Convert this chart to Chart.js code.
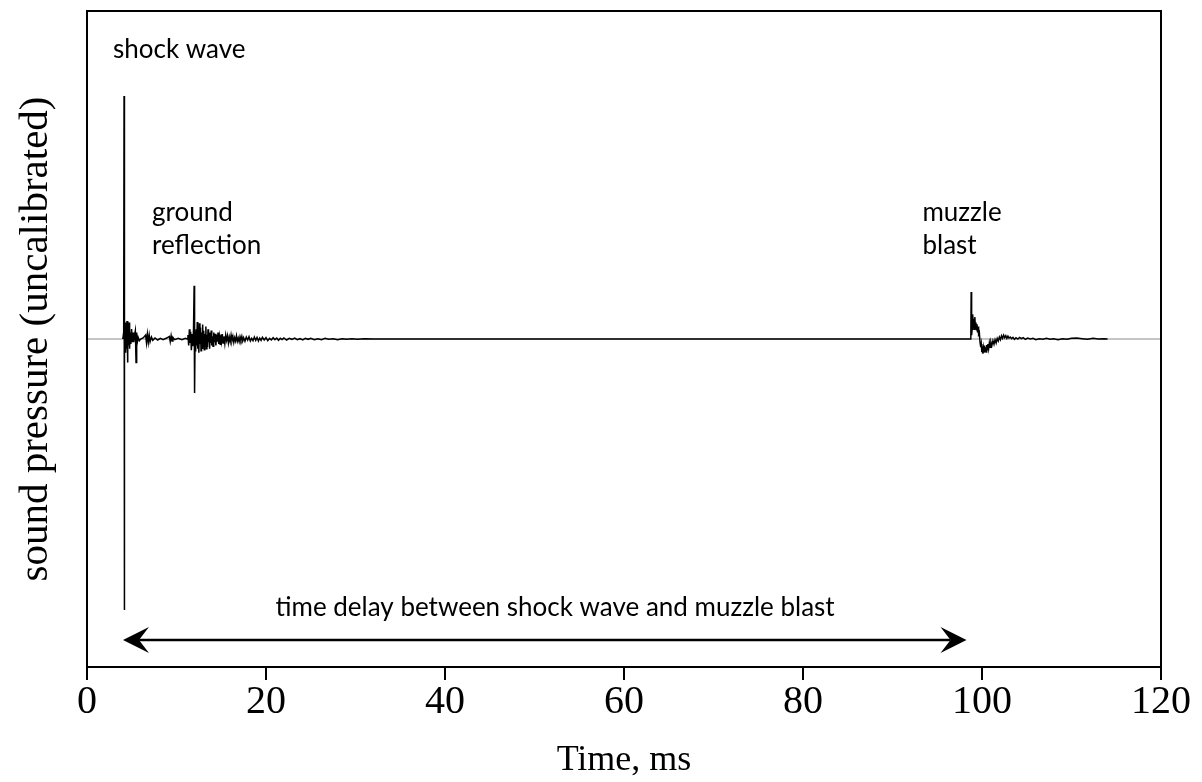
<!DOCTYPE html>
<html>
<head>
<meta charset="utf-8">
<script src="https://cdn.jsdelivr.net/npm/chart.js@4.4.1/dist/chart.umd.min.js"></script>
<style>
  html, body { margin: 0; padding: 0; background: #fff; }
  #wrap { width: 1202px; height: 782px; position: relative; }
</style>
</head>
<body>
<div id="wrap"><canvas id="blast-chart"></canvas></div>
<script>
// Shock wave arrival and its ringing (ms, relative pressure)
const shockTime = [
    4.00, 4.10, 4.14, 4.17, 4.20, 4.26, 4.32, 4.40, 4.47, 4.52, 4.58, 4.64, 4.70, 4.76,
    4.82, 4.90, 4.98, 5.06, 5.14, 5.22, 5.30, 5.40, 5.48, 5.55, 5.62, 5.72, 5.85, 6.00,
    6.30, 6.55, 6.65, 6.75, 6.85, 6.95, 7.05, 7.20, 7.35, 7.60, 7.90, 8.20, 8.50, 8.90,
    9.20, 9.30, 9.40, 9.50, 9.60, 9.80, 10.20, 10.60, 11.00
];
const shockPressure = [
    0, 0.02, 0.741, -0.826, 0.06, -0.04, 0.05, -0.03, 0.055, -0.072, 0.04, -0.02, 0.05, -0.03,
    0.02, -0.015, 0.03, -0.01, 0.02, -0.01, 0.01, 0.025, -0.072, 0.02, -0.01, 0.005, -0.005, 0,
    0.004, 0.012, -0.012, 0.015, -0.01, 0.012, -0.008, 0.006, -0.004, 0.003, -0.003, 0.002, -0.002, 0.003,
    0.008, -0.008, 0.01, -0.006, 0.005, -0.002, 0.002, -0.002, 0.002
];

// Ground reflection and the decaying tail behind it
const reflectionTime = [
    11.20, 11.28, 11.36, 11.44, 11.50, 11.58, 11.66, 11.74, 11.82, 11.90, 11.97, 12.02, 12.08, 12.14,
    12.20, 12.26, 12.32, 12.38, 12.44, 12.50, 12.56, 12.62, 12.68, 12.74, 12.80, 12.86, 12.92, 12.98,
    13.04, 13.10, 13.16, 13.22, 13.28, 13.34, 13.40, 13.46, 13.52, 13.58, 13.64, 13.70, 13.76, 13.82,
    13.88, 13.94, 14.00, 14.08, 14.16, 14.24, 14.32, 14.40, 14.48, 14.56, 14.64, 14.72, 14.80, 14.88,
    14.96, 15.04, 15.12, 15.20, 15.30, 15.40, 15.50, 15.60, 15.70, 15.80, 15.90, 16.00, 16.10, 16.20,
    16.30, 16.40, 16.50, 16.60, 16.70, 16.80, 16.90, 17.00, 17.10, 17.20, 17.30, 17.40, 17.50, 17.65,
    17.80, 17.95, 18.10, 18.25, 18.40, 18.55, 18.70, 18.85, 19.00, 19.15, 19.30, 19.45, 19.60, 19.80,
    20.00, 20.20, 20.40, 20.60, 20.80, 21.00, 21.20, 21.40, 21.60, 21.80, 22.00, 22.30, 22.60, 22.90,
    23.20, 23.50, 23.80, 24.10, 24.40, 24.70, 25.00, 25.40, 25.80, 26.20, 26.60, 27.00, 27.50, 28.00,
    28.50, 29.00, 29.60, 30.20, 31.00, 32.00
];
const reflectionPressure = [
    0, 0.012, -0.02, 0.03, -0.012, 0.022, -0.034, 0.015, -0.022, 0.028, 0.162, -0.165, 0.02, -0.038,
    0.03, -0.02, 0.052, -0.03, 0.01, -0.042, 0.048, -0.015, 0.035, -0.036, 0.02, -0.028, 0.044, -0.012,
    0.025, -0.033, 0.015, -0.02, 0.038, -0.03, 0.012, -0.024, 0.03, -0.01, 0.02, -0.03, 0.018, -0.012,
    0.026, -0.02, 0.008, -0.022, 0.02, -0.01, 0.016, -0.02, 0.012, -0.008, 0.02, -0.015, 0.006, -0.016,
    0.014, -0.006, 0.015, -0.012, 0.008, -0.014, 0.012, -0.004, 0.01, -0.012, 0.006, -0.008, 0.012, -0.005,
    0.008, -0.01, 0.004, -0.006, 0.01, -0.007, 0.003, -0.008, 0.007, -0.003, 0.008, -0.006, 0.004, -0.007,
    0.006, -0.003, 0.007, -0.006, 0.002, -0.005, 0.006, -0.004, 0.005, -0.006, 0.003, -0.004, 0.005, -0.003,
    0.004, -0.005, 0.002, -0.003, 0.004, -0.002, 0.003, -0.004, 0.002, -0.002, 0.003, -0.003, 0.002, -0.001,
    0.003, -0.002, 0.001, -0.003, 0.002, -0.001, 0.002, -0.002, 0.001, -0.002, 0.002, -0.001, 0.001, -0.002,
    0.001, -0.001, 0.001, -0.001, 0.001, 0
];

// Muzzle blast and its slow negative phase
const muzzleTime = [
    98.60, 98.75, 98.79, 98.84, 98.90, 98.96, 99.02, 99.08, 99.14, 99.20, 99.26, 99.32, 99.38, 99.44,
    99.50, 99.56, 99.62, 99.70, 99.78, 99.86, 99.92, 99.98, 100.04, 100.10, 100.16, 100.22, 100.28, 100.34,
    100.40, 100.46, 100.52, 100.58, 100.66, 100.74, 100.82, 100.90, 101.00, 101.10, 101.22, 101.34, 101.46, 101.58,
    101.70, 101.82, 101.94, 102.06, 102.18, 102.30, 102.42, 102.54, 102.66, 102.78, 102.90, 103.02, 103.16, 103.30,
    103.46, 103.62, 103.80, 104.00, 104.20, 104.40, 104.60, 104.85, 105.10, 105.40, 105.70, 106.00, 106.40, 106.80,
    107.20, 107.60, 108.00, 108.50, 109.00, 109.50, 110.00, 110.60, 111.20, 111.80, 112.40, 113.00, 113.60, 114.03
];
const muzzlePressure = [
    0, 0, 0.143, 0.012, 0.03, 0.075, 0.04, 0.062, 0.03, 0.067, 0.035, 0.05, 0.028, 0.045,
    0.02, 0.038, 0.015, 0.02, -0.01, -0.025, -0.015, -0.04, -0.022, -0.045, -0.028, -0.042, -0.02, -0.038,
    -0.025, -0.04, -0.018, -0.033, -0.015, -0.03, -0.012, -0.025, -0.01, -0.02, -0.005, -0.016, -0.002, -0.012,
    0.002, -0.006, 0.006, -0.002, 0.01, 0.002, 0.012, 0.004, 0.01, 0.002, 0.009, 0.003, 0.006, 0.001,
    0.005, -0.001, 0.004, 0, 0.005, 0.001, 0.004, -0.001, 0.003, 0, 0.002, -0.002, 0.001, -0.001,
    0.002, -0.001, 0.001, -0.002, 0.001, -0.001, 0.002, 0.003, 0.001, -0.001, 0.002, 0, 0.001, 0
];

// zero line of the recorder, across the full time window
const zeroTime = [0, 120];
const zeroPressure = [0, 0];

const xTicks = [0, 20, 40, 60, 80, 100, 120];

// event labels: text lines, left edge (ms), first line centre (pressure)
const noteText = [['shock wave'], ['ground', 'reflection'], ['muzzle', 'blast']];
const noteTime = [2.9, 7.27, 93.35];
const notePressure = [0.881, 0.384, 0.384];

// span between shock wave and muzzle blast
const delaySpan = [4.02, 98.27];
const delayPressure = -0.918;
const delayText = 'time delay between shock wave and muzzle blast';
const delayTextTime = 52.3;
const delayTextPressure = -0.82;

function toPoints(times, values) {
    return times.map((t, i) => ({ x: t, y: values[i] }));
}

const signal = toPoints(shockTime, shockPressure)
    .concat(toPoints(reflectionTime, reflectionPressure))
    .concat(toPoints(muzzleTime, muzzlePressure));

const noteFont = '26px Lato';

// frame around the plot, the event labels and the delay arrow
const annotate = {
    id: 'annotate',
    afterDatasetsDraw(chart) {
        const { ctx, chartArea, scales } = chart;
        const xs = scales.x, ys = scales.y;
        ctx.save();

        ctx.strokeStyle = '#000';
        ctx.lineWidth = 2;
        ctx.strokeRect(chartArea.left, chartArea.top,
            chartArea.right - chartArea.left, chartArea.bottom - chartArea.top);

        ctx.fillStyle = '#000';
        ctx.font = noteFont;
        ctx.textAlign = 'left';
        ctx.textBaseline = 'middle';
        const lineGap = 33;
        noteText.forEach((lines, i) => {
            const x = xs.getPixelForValue(noteTime[i]);
            const y = ys.getPixelForValue(notePressure[i]);
            lines.forEach((line, j) => ctx.fillText(line, x, y + j * lineGap));
        });

        ctx.textAlign = 'center';
        ctx.fillText(delayText, xs.getPixelForValue(delayTextTime), ys.getPixelForValue(delayTextPressure));

        const x1 = xs.getPixelForValue(delaySpan[0]);
        const x2 = xs.getPixelForValue(delaySpan[1]);
        const ya = ys.getPixelForValue(delayPressure);
        const head = 26, half = 13, notch = 16;
        ctx.lineWidth = 2.5;
        ctx.beginPath();
        ctx.moveTo(x1 + notch, ya);
        ctx.lineTo(x2 - notch, ya);
        ctx.stroke();
        [[x1, 1], [x2, -1]].forEach(([tip, dir]) => {
            ctx.beginPath();
            ctx.moveTo(tip, ya);
            ctx.lineTo(tip + dir * head, ya - half);
            ctx.lineTo(tip + dir * notch, ya);
            ctx.lineTo(tip + dir * head, ya + half);
            ctx.closePath();
            ctx.fill();
        });
        ctx.restore();
    }
};

new Chart(document.getElementById('blast-chart').getContext('2d'), {
    type: 'scatter',
    data: {
        datasets: [
            {
                data: signal,
                showLine: true,
                borderColor: '#000',
                borderWidth: 1.5,
                pointRadius: 0,
                tension: 0,
                order: 0
            },
            {
                data: toPoints(zeroTime, zeroPressure),
                showLine: true,
                borderColor: '#8c8c8c',
                borderWidth: 1.2,
                pointRadius: 0,
                order: 1
            }
        ]
    },
    options: {
        responsive: true,
        maintainAspectRatio: false,
        animation: false,
        layout: { padding: { top: 11, right: 41, left: 0, bottom: 0 } },
        plugins: { legend: { display: false }, tooltip: { enabled: false } },
        scales: {
            x: {
                type: 'linear',
                min: 0,
                max: 120,
                afterBuildTicks: s => { s.ticks = xTicks.map(v => ({ value: v })); },
                afterFit: s => { s.height = 115; },
                ticks: {
                    color: '#000',
                    padding: -2,
                    font: { family: 'Liberation Serif', size: 40 }
                },
                grid: { drawOnChartArea: false, drawTicks: true, tickLength: 13, color: '#000', lineWidth: 2 },
                border: { display: false },
                title: {
                    display: true,
                    text: 'Time, ms',
                    color: '#000',
                    padding: { top: 0, bottom: 0 },
                    font: { family: 'Liberation Serif', size: 36 }
                }
            },
            y: {
                min: -1,
                max: 1,
                afterFit: s => { s.width = 87; },
                ticks: { display: false },
                grid: { display: false },
                border: { display: false },
                title: {
                    display: true,
                    text: 'sound pressure (uncalibrated)',
                    color: '#000',
                    padding: { top: 12, bottom: 0 },
                    font: { family: 'Liberation Serif', size: 41 }
                }
            }
        }
    },
    plugins: [annotate]
});
</script>
</body>
</html>
